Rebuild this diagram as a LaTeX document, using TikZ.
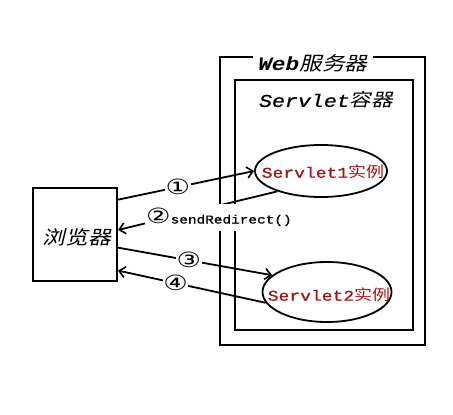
\documentclass[tikz,border=0pt]{standalone}
\usepackage{fontspec}
\usepackage{graphicx}
\setmonofont{Liberation Mono}
\newfontfamily\monomed{Liberation Mono}[FakeBold=0.8]
\newfontfamily\cjk{Noto Sans CJK SC}
\newfontfamily\cjkit{Noto Sans CJK SC}[FakeSlant=0.2]
\newfontfamily\dv{DejaVu Sans}
\usetikzlibrary{shapes.geometric,arrows.meta}
\definecolor{srvred}{RGB}{150,25,25}
\newcommand\hs[1]{\scalebox{1.2}[1]{#1}}
\newcommand\hn[1]{\scalebox{1.3}[1]{#1}}
\newcommand\fs[1]{\fontsize{#1}{#1}\selectfont}
\begin{document}
\begin{tikzpicture}[x=1pt,y=-1pt,
  box/.style={draw, line width=2pt, inner sep=0pt, rectangle},
  inst/.style={draw, ellipse, line width=1.8pt, inner sep=0pt},
  flow/.style={line width=1.8pt, -{Straight Barb[length=6pt,width=11pt,line width=1.6pt]}},
  num/.style={fill=white, inner sep=0.5pt, font=\dv\fs{21}},
  ]
\useasboundingbox (0,0) rectangle (453,415);
\node[box, minimum width=205pt, minimum height=288pt] (web) at (322.5,201) {};
\node[box, minimum width=178pt, minimum height=250pt] (cont) at (324,205) {};
\node[box, minimum width=84pt, minimum height=93pt] (b) at (75,234.5) {};
\node[inst, minimum width=132pt, minimum height=52pt] (s1) at (321,171) {};
\node[inst, minimum width=129pt, minimum height=60pt] (s2) at (327,292) {};
\node[text=srvred, font=\fs{15}] (s1t) at (323,172) {\hs{{\monomed Servlet1}{\cjk 实例}}};
\node[text=srvred, font=\fs{15}] (s2t) at (329,295) {\hs{{\monomed Servlet2}{\cjk 实例}}};
\node[font=\fs{19}] (bt) at (77,237) {\hs{\cjkit 浏览器}};
\draw[flow] (b.39) -- node[num, pos=0.44] (n1) {\hn{①}} (s1.west);
\draw[flow] (s1.205) -- (b.6);
\draw[flow] (b.343) -- node[num, pos=0.46] (n3) {\hn{③}} (s2.163);
\draw[flow] (s2.190) -- node[num, pos=0.61] (n4) {\hn{④}} (b.320);
\node[fill=white, anchor=west, inner sep=1pt, minimum height=27pt] (l2) at (145,217)
  {\hn{\dv\fs{21}②}\hs{\monomed\fs{12}sendRedirect()}};
\node[fill=white, inner xsep=5pt, inner ysep=0pt, font=\fs{19}] (wt) at (313,63)
  {\hs{{\ttfamily\bfseries\itshape Web}{\cjkit 服务器}}};
\node[font=\fs{18}] (ct) at (326,100) {\hs{{\monomed\itshape Servlet}{\cjkit 容器}}};
\end{tikzpicture}
\end{document}
